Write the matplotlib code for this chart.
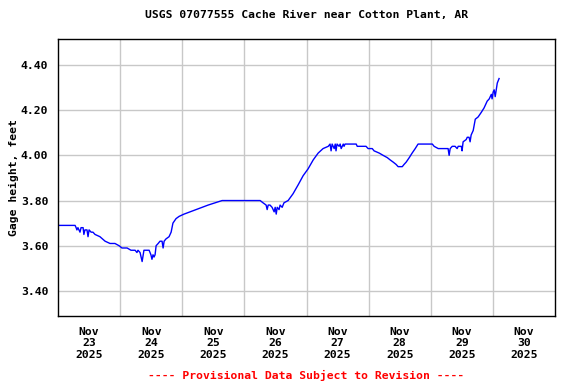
import numpy as np
import matplotlib.pyplot as plt

# hours since Nov 23 2025 00:00, gage height in feet
hours = [0.0, 6.6, 7.0, 7.3, 7.7, 8.5, 8.9, 9.7, 10.0, 10.4, 11.2, 11.6, 12.0, 12.8, 13.5,
         14.3, 16.2, 18.2, 20.1, 22.0, 23.6, 24.7, 26.7, 28.2, 29.8, 30.5, 30.9, 31.7, 32.5,
         32.9, 33.2, 35.2, 35.9, 36.3, 36.7, 37.1, 37.5, 37.9, 38.7, 39.4, 40.2, 40.6, 41.0,
         41.7, 42.9, 43.7, 44.4, 45.6, 46.8, 48.7, 51.0, 53.3, 55.7, 58.0, 60.7, 63.4, 66.5,
         70.3, 74.2, 78.1, 79.2, 80.4, 80.8, 81.2, 81.9, 82.7, 83.5, 83.9, 84.3, 84.7, 85.4,
         85.8, 86.6, 87.3, 88.9, 90.8, 92.8, 94.7, 96.6, 98.6, 100.5, 102.4, 104.4, 105.1,
         105.5, 105.9, 106.7, 107.1, 107.4, 107.8, 108.6, 109.0, 109.4, 110.2, 110.5, 110.9,
         115.2, 115.6, 119.0, 119.8, 121.4, 122.1, 124.1, 125.6, 127.2, 128.3, 129.5, 130.6,
         131.4, 133.0, 133.7, 134.5, 135.7, 136.8, 138.0, 139.1, 144.6, 145.3, 146.9, 150.7,
         151.1, 151.5, 152.3, 153.4, 154.2, 154.6, 155.8, 156.1, 156.5, 157.7, 158.1, 158.8,
         159.2, 159.6, 160.4, 161.2, 162.3, 163.5, 164.6, 165.8, 166.6, 167.4, 167.7, 168.1,
         168.5, 168.9, 169.3, 169.7, 170.4]
gage = [3.69, 3.69, 3.68, 3.67, 3.68, 3.66, 3.68, 3.68, 3.65, 3.67, 3.67, 3.64, 3.67, 3.66, 3.66,
        3.65, 3.64, 3.62, 3.61, 3.61, 3.60, 3.59, 3.59, 3.58, 3.58, 3.57, 3.58, 3.57, 3.53,
        3.56, 3.58, 3.58, 3.56, 3.54, 3.56, 3.55, 3.56, 3.60, 3.61, 3.62, 3.62, 3.59, 3.62,
        3.63, 3.64, 3.66, 3.70, 3.72, 3.73, 3.74, 3.75, 3.76, 3.77, 3.78, 3.79, 3.80, 3.80,
        3.80, 3.80, 3.80, 3.79, 3.78, 3.76, 3.78, 3.78, 3.77, 3.75, 3.77, 3.74, 3.77, 3.76,
        3.78, 3.77, 3.79, 3.80, 3.83, 3.87, 3.91, 3.94, 3.98, 4.01, 4.03, 4.04, 4.05,
        4.02, 4.05, 4.03, 4.05, 4.02, 4.05, 4.04, 4.05, 4.03, 4.05, 4.04, 4.05,
        4.05, 4.04, 4.04, 4.03, 4.03, 4.02, 4.01, 4.00, 3.99, 3.98, 3.97, 3.96,
        3.95, 3.95, 3.96, 3.97, 3.99, 4.01, 4.03, 4.05, 4.05, 4.04, 4.03, 4.03,
        4.00, 4.03, 4.04, 4.04, 4.03, 4.04, 4.04, 4.02, 4.06, 4.07, 4.08, 4.08,
        4.06, 4.09, 4.11, 4.16, 4.17, 4.19, 4.21, 4.24, 4.25, 4.27, 4.25, 4.28,
        4.29, 4.26, 4.29, 4.32, 4.34]

day_labels = ['Nov\n23\n2025', 'Nov\n24\n2025', 'Nov\n25\n2025', 'Nov\n26\n2025',
              'Nov\n27\n2025', 'Nov\n28\n2025', 'Nov\n29\n2025', 'Nov\n30\n2025']
y_ticks = [3.40, 3.60, 3.80, 4.00, 4.20, 4.40]

font = 'DejaVu Sans Mono'

fig = plt.figure(figsize=(5.76, 3.84), dpi=100)
ax = fig.add_axes([58/576, 1-316/384, 497/576, 277/384])

ax.plot(hours, gage, color='#0000ff', lw=1)

ax.set_xlim(0, 192)
ax.set_ylim(3.289, 4.515)

ax.set_xticks(np.arange(24, 192, 24), minor=True)
ax.set_xticks(np.arange(12, 192, 24))
ax.set_xticklabels(day_labels, fontfamily=font, fontweight='bold', fontsize=8.2,
                   linespacing=1.15)
ax.set_yticks(y_ticks)
ax.set_yticklabels(['%.2f' % v for v in y_ticks], fontfamily=font, fontweight='bold',
                   fontsize=8.2)
ax.tick_params(axis='both', which='both', length=0)
ax.tick_params(axis='x', pad=8)
ax.tick_params(axis='y', pad=7)
ax.grid(True, which='minor', axis='x', color='#c8c8c8', lw=1)
ax.grid(True, which='major', axis='y', color='#c8c8c8', lw=1)
ax.set_axisbelow(True)
for s in ax.spines.values():
    s.set_linewidth(1)

ax.set_title('USGS 07077555 Cache River near Cotton Plant, AR', fontfamily=font,
             fontweight='bold', fontsize=8.2, pad=15)
ax.set_ylabel('Gage height, feet', fontfamily=font, fontweight='bold', fontsize=8.2,
              labelpad=1)
ax.text(0.5, -0.213, '---- Provisional Data Subject to Revision ----', transform=ax.transAxes,
        ha='center', va='center', color='red', fontfamily=font, fontweight='bold',
        fontsize=8.2)

plt.savefig('out.png', dpi=100)
